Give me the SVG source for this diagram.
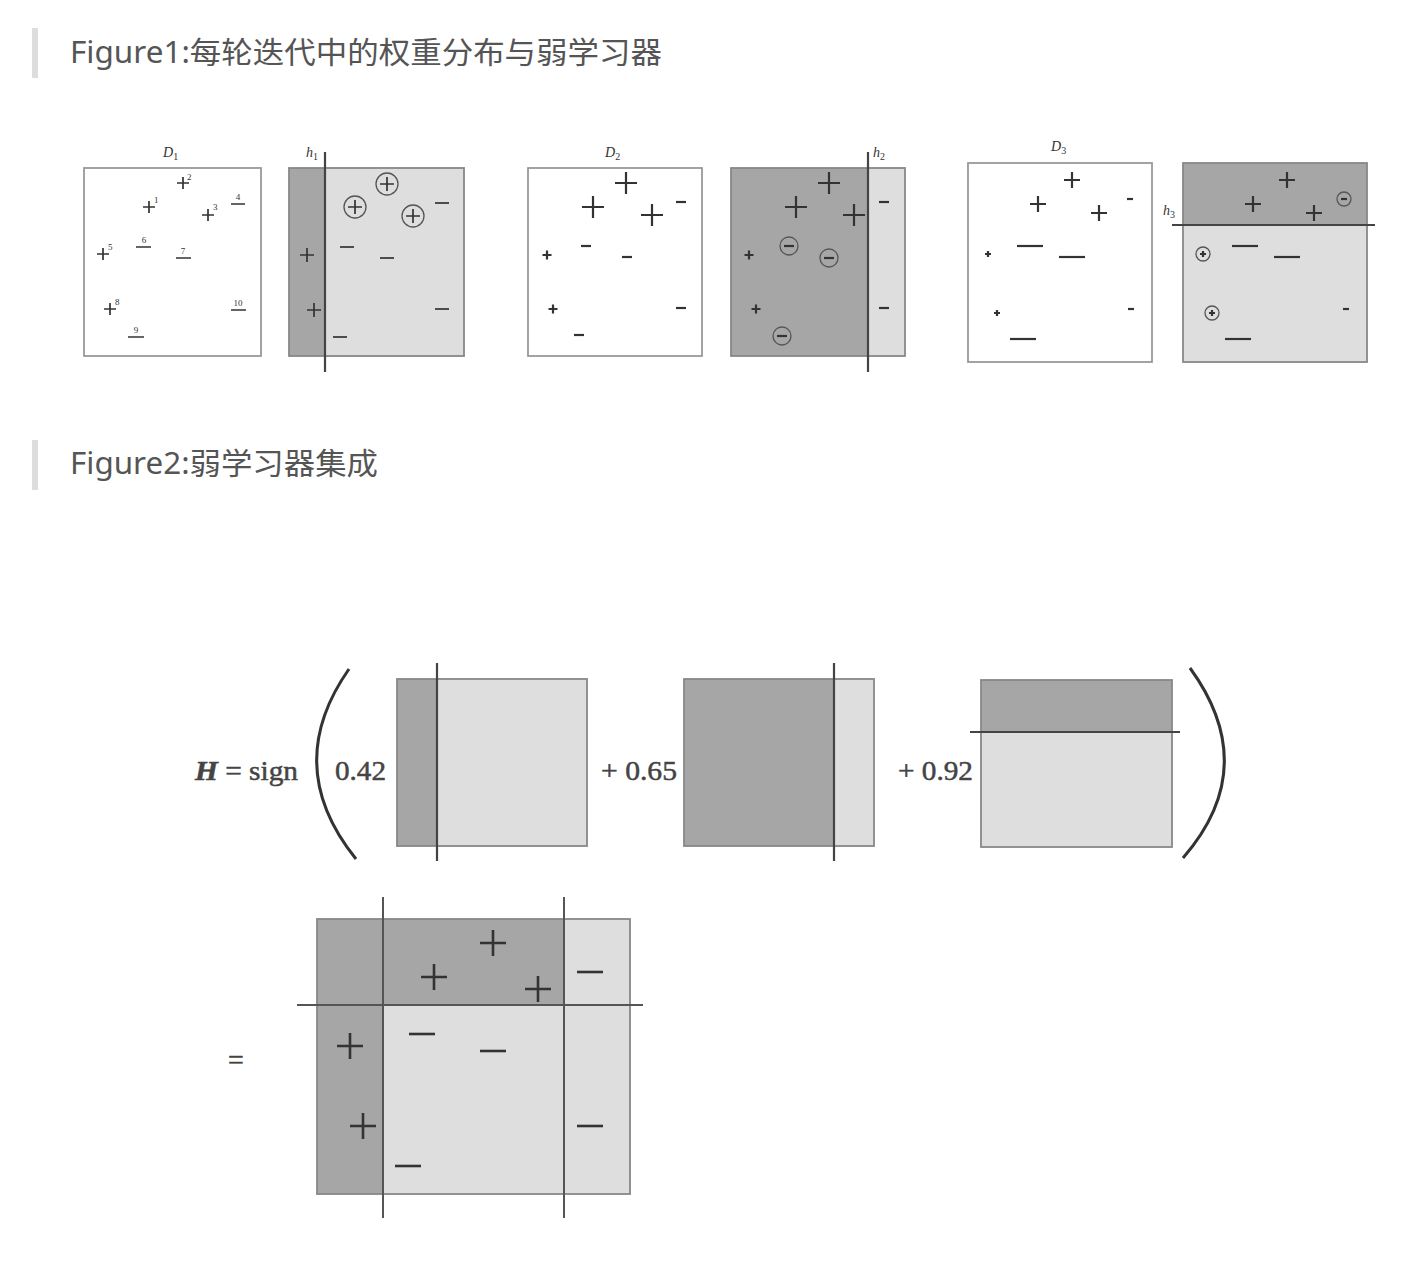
<svg xmlns="http://www.w3.org/2000/svg" width="1424" height="1266" viewBox="0 0 1424 1266">
<style>
.hdr{font-family:"Noto Sans","Noto Sans CJK SC",sans-serif;font-size:30px;fill:#555}
.bar{fill:#dddddd}
.wbox{fill:#fff;stroke:#999;stroke-width:1.8}
.dk{fill:#a6a6a6}
.lt{fill:#dedede}
.frame{fill:none;stroke:#888;stroke-width:1.8}
.cut{stroke:#444;stroke-width:2.2;fill:none}
.sg{stroke:#333;stroke-width:1.7;fill:none;stroke-linecap:butt}
.sg2{stroke:#333;stroke-width:2.2;fill:none}
.sg3{stroke:#333;stroke-width:2.6;fill:none}
.cir{fill:none;stroke:#555;stroke-width:1.3}
.lbl{font-family:"Liberation Serif",serif;font-style:italic;font-size:14px;fill:#333}
.sub{font-style:normal;font-size:10px}
.num{font-family:"Liberation Serif",serif;font-size:9px;fill:#333}
.eq{font-family:"Liberation Serif",serif;font-size:28px;fill:#444;stroke:#444;stroke-width:0.5}
.par{stroke:#333;stroke-width:3;fill:none}
</style>
<defs>
<path id="pS" d="M-6,0H6M0,-6V6"/>
<path id="pM" d="M-7,0H7M0,-7V7"/>
<path id="pL" d="M-11,0H11M0,-11V11"/>
<path id="pXS" d="M-4.5,0H4.5M0,-4.5V4.5"/>
<path id="pD3" d="M-8,0H8M0,-8V8"/>
<path id="mS" d="M-7,0H7"/>
<path id="mXS" d="M-5,0H5"/>
<path id="mL" d="M-13,0H13"/>
<path id="mT" d="M-3,0H3"/>
<path id="dot" d="M-3,0H3M0,-3V3"/>
<path id="pB" d="M-13,0H13M0,-13V13"/>
</defs>

<g id="header1">
<rect class="bar" x="32" y="28" width="6" height="50"/>
<text class="hdr" x="70" y="63" textLength="592" lengthAdjust="spacingAndGlyphs">Figure1:每轮迭代中的权重分布与弱学习器</text>
</g>

<g id="panel-D1">
<rect class="wbox" x="84" y="168" width="177" height="188"/>
<text class="lbl" x="163" y="157">D<tspan class="sub" dy="3">1</tspan></text>
<g class="sg">
<use href="#pS" x="183" y="183"/><use href="#pS" x="149" y="207"/><use href="#pS" x="208" y="215"/>
<use href="#pS" x="103" y="254"/><use href="#pS" x="110" y="309"/>
<path d="M231,204H245M136,247H151M176,258H191M128,337H144M231,310H246"/>
</g>
<text class="num" x="187" y="180">2</text>
<text class="num" x="154" y="203">1</text>
<text class="num" x="213" y="210">3</text>
<text class="num" x="108" y="250">5</text>
<text class="num" x="115" y="305">8</text>
<text class="num" x="238" y="200" text-anchor="middle">4</text>
<text class="num" x="144" y="243" text-anchor="middle">6</text>
<text class="num" x="183" y="254" text-anchor="middle">7</text>
<text class="num" x="136" y="333" text-anchor="middle">9</text>
<text class="num" x="238" y="306" text-anchor="middle">10</text>
</g>

<g id="panel-h1">
<rect class="lt" x="289" y="168" width="175" height="188"/>
<rect class="dk" x="289" y="168" width="36" height="188"/>
<rect class="frame" x="289" y="168" width="175" height="188"/>
<path class="cut" d="M325,152V372"/>
<text class="lbl" x="306" y="157">h<tspan class="sub" dy="3">1</tspan></text>
<circle class="cir" cx="387" cy="184" r="11"/><circle class="cir" cx="355" cy="207" r="11"/><circle class="cir" cx="413" cy="216" r="11"/>
<g class="sg">
<use href="#pM" x="387" y="184"/><use href="#pM" x="355" y="207"/><use href="#pM" x="413" y="216"/>
<use href="#pM" x="307" y="255"/><use href="#pM" x="314" y="310"/>
<use href="#mS" x="442" y="203"/><use href="#mS" x="347" y="247"/><use href="#mS" x="387" y="258"/>
<use href="#mS" x="442" y="309"/><use href="#mS" x="340" y="337"/>
</g>
</g>

<g id="panel-D2">
<rect class="wbox" x="528" y="168" width="174" height="188"/>
<text class="lbl" x="605" y="157">D<tspan class="sub" dy="3">2</tspan></text>
<g class="sg2">
<use href="#pL" x="626" y="183"/><use href="#pL" x="593" y="207"/><use href="#pL" x="652" y="215"/>
<use href="#pXS" x="547" y="255"/><use href="#pXS" x="553" y="309"/>
<use href="#mXS" x="681" y="202"/><use href="#mXS" x="586" y="246"/><use href="#mXS" x="627" y="257"/>
<use href="#mXS" x="681" y="308"/><use href="#mXS" x="579" y="335"/>
</g>
</g>

<g id="panel-h2">
<rect class="lt" x="731" y="168" width="174" height="188"/>
<rect class="dk" x="731" y="168" width="137" height="188"/>
<rect class="frame" x="731" y="168" width="174" height="188"/>
<path class="cut" d="M868,152V372"/>
<text class="lbl" x="873" y="157">h<tspan class="sub" dy="3">2</tspan></text>
<circle class="cir" cx="789" cy="246" r="9"/><circle class="cir" cx="829" cy="258" r="9"/><circle class="cir" cx="782" cy="336" r="9"/>
<g class="sg2">
<use href="#pL" x="829" y="183"/><use href="#pL" x="796" y="207"/><use href="#pL" x="854" y="215"/>
<use href="#pXS" x="749" y="255"/><use href="#pXS" x="756" y="309"/>
<use href="#mXS" x="884" y="202"/><use href="#mXS" x="884" y="308"/>
<use href="#mXS" x="789" y="246"/><use href="#mXS" x="829" y="258"/><use href="#mXS" x="782" y="336"/>
</g>
</g>

<g id="panel-D3">
<rect class="wbox" x="968" y="163" width="184" height="199"/>
<text class="lbl" x="1051" y="151">D<tspan class="sub" dy="3">3</tspan></text>
<g class="sg2">
<use href="#pD3" x="1072" y="180"/><use href="#pD3" x="1038" y="204"/><use href="#pD3" x="1099" y="213"/>
<use href="#mT" x="1130" y="199"/><use href="#mT" x="1131" y="309"/>
<use href="#mL" x="1030" y="246"/><use href="#mL" x="1072" y="257"/><use href="#mL" x="1023" y="339"/>
<use href="#dot" x="988" y="254"/><use href="#dot" x="997" y="313"/>
</g>
</g>

<g id="panel-h3">
<rect class="lt" x="1183" y="163" width="184" height="199"/>
<rect class="dk" x="1183" y="163" width="184" height="62"/>
<rect class="frame" x="1183" y="163" width="184" height="199"/>
<path class="cut" d="M1172,225H1375"/>
<text class="lbl" x="1163" y="215">h<tspan class="sub" dy="3">3</tspan></text>
<circle class="cir" cx="1344" cy="199" r="7"/><circle class="cir" cx="1203" cy="254" r="7"/><circle class="cir" cx="1212" cy="313" r="7"/>
<g class="sg2">
<use href="#pD3" x="1287" y="180"/><use href="#pD3" x="1253" y="204"/><use href="#pD3" x="1314" y="213"/>
<use href="#mT" x="1344" y="199"/><use href="#mT" x="1346" y="309"/>
<use href="#mL" x="1245" y="246"/><use href="#mL" x="1287" y="257"/><use href="#mL" x="1238" y="339"/>
<use href="#dot" x="1203" y="254"/><use href="#dot" x="1212" y="313"/>
</g>
</g>

<g id="header2">
<rect class="bar" x="32" y="440" width="6" height="50"/>
<text class="hdr" x="70" y="474" textLength="308" lengthAdjust="spacingAndGlyphs">Figure2:弱学习器集成</text>
</g>

<g id="formula">
<text class="eq" x="195" y="780" textLength="103" lengthAdjust="spacingAndGlyphs"><tspan font-style="italic" font-weight="bold">H</tspan> = sign</text>
<path class="par" d="M349,669Q281,766 356,859"/>
<path class="par" d="M1190,668Q1262,767 1183,858"/>
<text class="eq" x="335" y="780" textLength="51" lengthAdjust="spacingAndGlyphs">0.42</text>
<text class="eq" x="601" y="780" textLength="76" lengthAdjust="spacingAndGlyphs">+ 0.65</text>
<text class="eq" x="898" y="780" textLength="75" lengthAdjust="spacingAndGlyphs">+ 0.92</text>
</g>

<g id="term1">
<rect class="lt" x="397" y="679" width="190" height="167"/>
<rect class="dk" x="397" y="679" width="40" height="167"/>
<rect class="frame" x="397" y="679" width="190" height="167"/>
<path class="cut" d="M437,663V861" stroke-width="3"/>
</g>

<g id="term2">
<rect class="lt" x="684" y="679" width="190" height="167"/>
<rect class="dk" x="684" y="679" width="150" height="167"/>
<rect class="frame" x="684" y="679" width="190" height="167"/>
<path class="cut" d="M834,663V861" stroke-width="3"/>
</g>

<g id="term3">
<rect class="lt" x="981" y="680" width="191" height="167"/>
<rect class="dk" x="981" y="680" width="191" height="52"/>
<rect class="frame" x="981" y="680" width="191" height="167"/>
<path class="cut" d="M970,732H1180" stroke-width="3"/>
</g>

<g id="result">
<text class="eq" x="236" y="1069" text-anchor="middle" fill="#777" stroke="#777">=</text>
<rect class="lt" x="317" y="919" width="313" height="275"/>
<rect class="dk" x="317" y="919" width="66" height="275"/>
<rect class="dk" x="383" y="919" width="181" height="86"/>
<rect class="frame" x="317" y="919" width="313" height="275"/>
<path d="M383,897V1218M564,897V1218M297,1005H643" stroke="#555" stroke-width="2" fill="none"/>
<g class="sg3">
<use href="#pB" x="493" y="943"/><use href="#pB" x="434" y="977"/><use href="#pB" x="538" y="989"/>
<use href="#pB" x="350" y="1046"/><use href="#pB" x="363" y="1126"/>
<use href="#mL" x="590" y="972"/><use href="#mL" x="422" y="1034"/><use href="#mL" x="493" y="1051"/>
<use href="#mL" x="590" y="1126"/><use href="#mL" x="408" y="1166"/>
</g>
</g>
</svg>
